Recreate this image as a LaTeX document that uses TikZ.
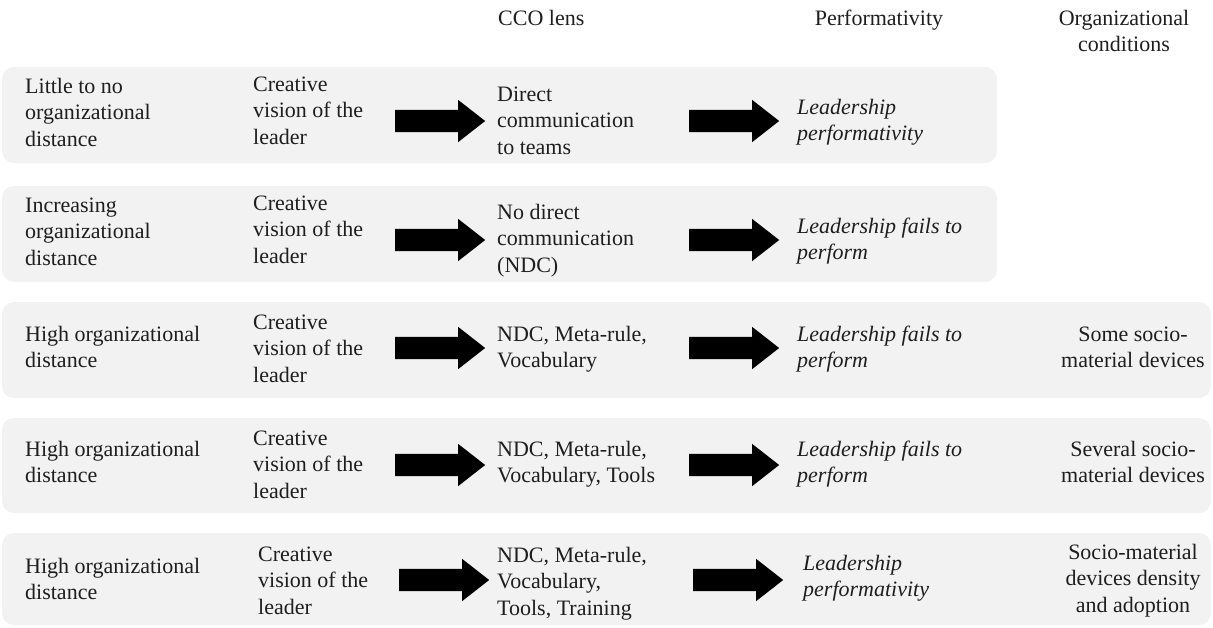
\documentclass[tikz,border=0pt]{standalone}
\usepackage{fontspec}
\setmainfont{Liberation Serif}
\usetikzlibrary{shapes.arrows}
\definecolor{rowgray}{HTML}{F2F2F2}
\definecolor{ink}{HTML}{1E1E1E}
\begin{document}
\begin{tikzpicture}[x=1pt, y=-1pt, text=ink, font=\fontsize{22}{26.5}\selectfont,
	txt/.style={anchor=base west, align=left, inner sep=0pt},
	perf/.style={txt, font=\fontsize{22}{26.5}\selectfont\itshape},
	cond/.style={anchor=base, align=center, inner sep=0pt},
	bigarrow/.style={single arrow, fill=black, draw=none, inner sep=0pt, text height=11pt, text depth=11pt,
		minimum height=90pt, single arrow head extend=10pt, single arrow tip angle=76}]
	\useasboundingbox (0,0) rectangle (1213,627);
	% grey rows
	\foreach \top/\bot/\rt in {67/163/997, 186/282/997, 302/398/1211, 418/513/1211, 533/625/1211}
		\fill[rowgray, rounded corners=12pt] (2,\top) rectangle (\rt,\bot);
	% headings (base = last line)
	\node (hcco) at (498,25) [txt]{CCO lens};
	\node (hperf) at (879,25) [cond]{Performativity};
	\node (hcond) at (1124,51.5) [cond]{Organizational\\conditions};
	% row 1
	\node (dist1) at (25,146) [txt]{Little to no\\organizational\\distance};
	\node (vis1) at (253,144) [txt]{Creative\\vision of the\\leader};
	\node (cco1) at (497,154) [txt]{Direct\\communication\\to teams};
	\node (perf1) at (797,140.5) [perf]{Leadership\\performativity};
	\node (arA1) at (433,121) [bigarrow]{};
	\node (arB1) at (727,121) [bigarrow]{};
	% row 2
	\node (dist2) at (25,265) [txt]{Increasing\\organizational\\distance};
	\node (vis2) at (253,263) [txt]{Creative\\vision of the\\leader};
	\node (cco2) at (497,272) [txt]{No direct\\communication\\(NDC)};
	\node (perf2) at (797,259.5) [perf]{Leadership fails to\\perform};
	\node (arA2) at (433,240) [bigarrow]{};
	\node (arB2) at (727,240) [bigarrow]{};
	% row 3
	\node (dist3) at (25,367.5) [txt]{High organizational\\distance};
	\node (vis3) at (253,382) [txt]{Creative\\vision of the\\leader};
	\node (cco3) at (497,367.5) [txt]{NDC, Meta-rule,\\Vocabulary};
	\node (perf3) at (797,367.5) [perf]{Leadership fails to\\perform};
	\node (cond3) at (1133,367.5) [cond]{Some socio-\\material devices};
	\node (arA3) at (433,348) [bigarrow]{};
	\node (arB3) at (727,348) [bigarrow]{};
	% row 4
	\node (dist4) at (25,482.5) [txt]{High organizational\\distance};
	\node (vis4) at (253,498) [txt]{Creative\\vision of the\\leader};
	\node (cco4) at (497,482.5) [txt]{NDC, Meta-rule,\\Vocabulary, Tools};
	\node (perf4) at (797,482.5) [perf]{Leadership fails to\\perform};
	\node (cond4) at (1133,482.5) [cond]{Several socio-\\material devices};
	\node (arA4) at (433,465) [bigarrow]{};
	\node (arB4) at (727,465) [bigarrow]{};
	% row 5
	\node (dist5) at (25,599.5) [txt]{High organizational\\distance};
	\node (vis5) at (258,614) [txt]{Creative\\vision of the\\leader};
	\node (cco5) at (497,615) [txt]{NDC, Meta-rule,\\Vocabulary,\\Tools, Training};
	\node (perf5) at (803,596.5) [perf]{Leadership\\performativity};
	\node (cond5) at (1133,612) [cond]{Socio-material\\devices density\\and adoption};
	\node (arA5) at (437,580) [bigarrow]{};
	\node (arB5) at (731,580) [bigarrow]{};
\end{tikzpicture}
\end{document}
